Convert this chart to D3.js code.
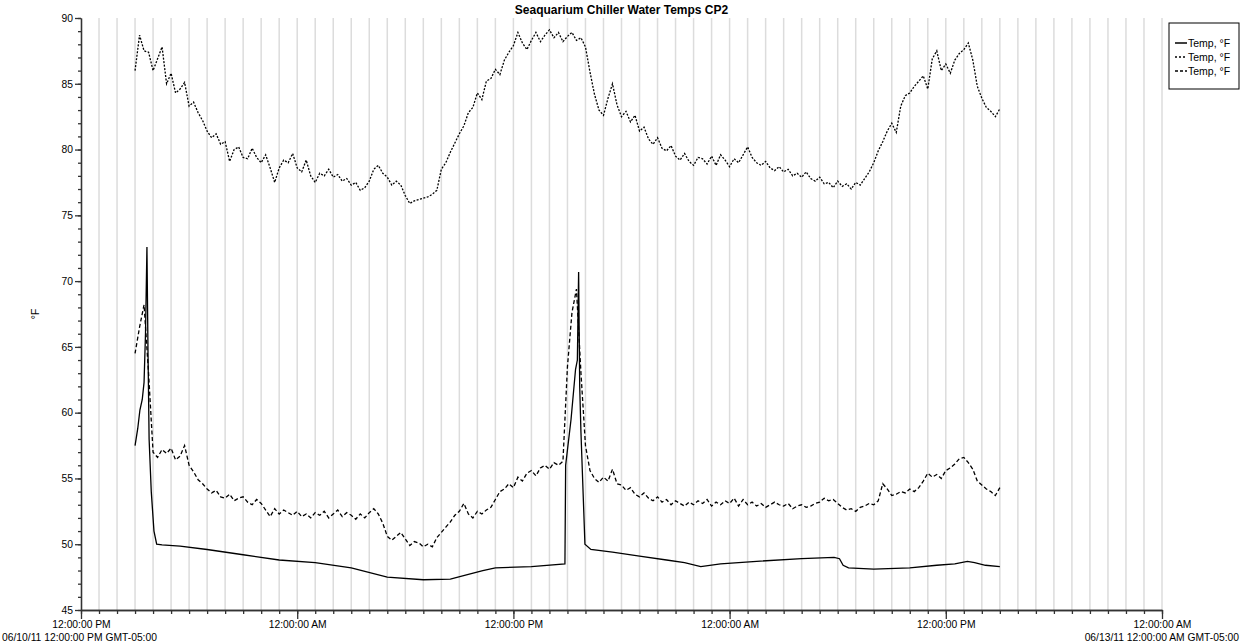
<!DOCTYPE html>
<html>
<head>
<meta charset="utf-8">
<script src="https://cdn.jsdelivr.net/npm/d3@7/dist/d3.min.js"></script>
<style>
    body { margin: 0; background: #fff; }
    svg { font-family: "Liberation Sans", Arial, sans-serif; }
</style>
</head>
<body>
<svg id="chart" width="1241" height="644"></svg>
<script>
const chart_title = "Seaquarium Chiller Water Temps CP2";
const y_label = "°F";
const legend_labels = ["Temp, °F", "Temp, °F", "Temp, °F"];
const first_date_label = "06/10/11 12:00:00 PM GMT-05:00";
const last_date_label = "06/13/11 12:00:00 AM GMT-05:00";
const x_start = new Date(2011, 5, 10, 12);
const x_end = new Date(2011, 5, 13, 0);
const y_ticks = [45, 50, 55, 60, 65, 70, 75, 80, 85, 90];

// dotted + dashed series are logged every 15 min from hour 3 (3:00 PM)
const sample_start_hour = 3;
const sample_step_hour = 0.25;

const temp_dotted = [
    86.0, 88.7, 87.5, 87.4, 86.0, 86.9, 87.8, 85.0, 85.8, 84.3, 84.6, 85.1,
    83.3, 83.6, 82.8, 82.2, 81.4, 80.9, 81.2, 80.4, 80.6, 79.1, 80.0, 80.2,
    79.4, 79.3, 80.1, 79.4, 79.0, 79.6, 78.6, 77.5, 78.6, 79.2, 79.0, 79.7,
    78.6, 78.3, 79.2, 78.0, 77.5, 78.2, 78.0, 78.5, 77.9, 78.1, 77.6, 77.8,
    77.3, 77.5, 76.9, 77.1, 77.6, 78.5, 78.8, 78.2, 77.9, 77.3, 77.6, 77.3,
    76.5, 75.9, 76.1, 76.2, 76.3, 76.4, 76.6, 76.9, 78.5, 79.0, 79.8, 80.5,
    81.2, 81.8, 82.8, 83.2, 84.3, 83.8, 85.2, 85.4, 86.1, 85.7, 86.8, 87.4,
    87.9, 88.9, 88.1, 87.6, 88.3, 88.9, 88.2, 88.7, 89.1, 88.5, 88.9, 88.2,
    88.6, 88.9, 88.3, 88.5, 87.8, 85.9, 84.2, 83.0, 82.6, 83.9, 85.0, 83.4,
    82.5, 82.9, 82.1, 82.6, 81.4, 81.7, 80.8, 80.4, 80.9, 80.1, 79.9, 80.3,
    79.5, 79.2, 79.7, 79.1, 78.8, 79.4, 79.3, 78.9, 79.5, 78.8, 79.6, 79.2,
    78.7, 79.3, 79.0, 79.6, 80.2, 79.4, 79.0, 78.8, 79.1, 78.6, 78.4, 78.7,
    78.3, 78.5, 78.0, 78.2, 77.9, 78.3, 77.8, 77.6, 77.9, 77.4, 77.5, 77.1,
    77.6, 77.2, 77.4, 77.0, 77.5, 77.3, 77.8, 78.3, 79.0, 79.9, 80.6, 81.4,
    82.0, 81.3, 83.3, 84.1, 84.3, 84.8, 85.2, 85.6, 84.6, 86.9, 87.5, 86.0,
    86.5, 85.8, 86.8, 87.3, 87.6, 88.1, 86.8, 84.8, 83.9, 83.2, 82.9, 82.5,
    83.1
];

const temp_dashed = [
    64.5, 66.5, 68.2, 63.0, 57.0, 56.6, 57.2, 56.9, 57.3, 56.4, 56.7, 57.5,
    56.0, 55.5, 54.9, 54.6, 54.2, 53.9, 54.1, 53.6, 53.5, 53.8, 53.3, 53.5,
    53.6, 53.2, 53.0, 53.4, 53.1, 52.6, 52.1, 52.7, 52.3, 52.6, 52.4, 52.2,
    52.5, 52.1, 52.3, 52.0, 52.4, 52.2, 52.5, 52.0, 52.3, 52.6, 52.1, 52.4,
    52.2, 51.9, 52.3, 52.0, 52.4, 52.7, 52.3, 51.6, 50.6, 50.3, 50.6, 50.9,
    50.4, 49.9, 50.2, 50.1, 49.8, 50.0, 49.8, 50.5, 50.9, 51.3, 51.7, 52.2,
    52.5, 53.1, 52.3, 52.0, 52.5, 52.3, 52.6, 52.8, 53.4, 54.0, 54.2, 54.6,
    54.3, 55.1, 54.8, 55.4, 55.6, 55.2, 55.8, 56.0, 55.7, 56.2, 56.0, 56.3,
    63.5, 67.6, 69.4, 63.0, 57.5, 55.6, 55.0, 54.7, 55.1, 54.8, 55.7, 54.6,
    54.5, 54.1, 54.3, 53.8, 53.6, 53.9, 53.5, 53.3, 53.6, 53.2, 53.4, 53.0,
    53.3, 53.1, 52.9, 53.2, 53.0, 53.3, 53.1, 53.4, 52.9, 53.2, 53.0, 53.3,
    53.1, 53.5, 52.9, 53.4, 53.0, 53.2, 52.9, 53.1, 52.8, 53.0, 53.2, 53.0,
    52.9, 53.1, 52.7, 52.9, 53.0, 52.8, 52.9, 53.1, 53.2, 53.5, 53.3, 53.4,
    53.1, 52.8, 52.6, 52.7, 52.5, 52.8, 52.9, 53.1, 53.0, 53.3, 54.6, 54.2,
    53.7, 53.8, 54.0, 53.9, 54.2, 54.0, 54.3, 54.8, 55.4, 55.1, 55.3, 55.0,
    55.6, 55.8, 56.1, 56.5, 56.6, 56.2, 55.7, 54.8, 54.5, 54.2, 54.0, 53.7,
    54.3
];

// solid series is smooth apart from two spikes, kept as (hour, value)
const temp_solid_hours = [
    3.00, 3.15, 3.27, 3.40, 3.50, 3.58, 3.66, 3.72, 3.78, 3.90, 4.05, 4.20,
    4.50, 5.50, 7.00, 9.00, 11.0, 13.0, 15.0, 17.0, 19.0, 20.5, 21.5, 22.3,
    23.0, 25.0, 26.86, 26.90, 27.20, 27.45, 27.55, 27.62, 27.68, 27.75, 27.97, 28.3,
    29.5, 31.0, 32.5, 33.5, 34.4, 35.5, 37.5, 40.0, 41.8, 42.1, 42.3, 42.6,
    44.0, 46.0, 47.5, 48.5, 49.2, 49.6, 50.2, 51.0
];
const temp_solid_values = [
    57.5, 58.8, 60.2, 61.0, 62.3, 66.0, 72.6, 64.5, 58.0, 54.0, 51.0, 50.0,
    49.95, 49.85, 49.6, 49.2, 48.8, 48.6, 48.2, 47.5, 47.3, 47.35, 47.7, 48.0,
    48.2, 48.3, 48.5, 56.0, 59.5, 63.3, 64.0, 70.7, 62.0, 58.5, 50.0, 49.6,
    49.4, 49.1, 48.8, 48.6, 48.3, 48.5, 48.7, 48.9, 49.0, 48.9, 48.4, 48.2,
    48.1, 48.2, 48.4, 48.5, 48.7, 48.6, 48.4, 48.3
];

const series_styles = ["none", "2,1.5", "4,2.5"];


class TempChart {

    constructor(selector) {
        this.svg = d3.select(selector);
        this.x = d3.scaleTime().domain([x_start, x_end]).range([81, 1162]);
        this.y = d3.scaleLinear().domain([45, 90]).range([610, 18]);
        this.line = d3.line()
            .x(d => this.x(d.date))
            .y(d => this.y(d.value));
    }

    hour_to_date(h) {
        return new Date(x_start.getTime() + h * 3600 * 1000);
    }

    draw_grid() {
        let hours = d3.timeHour.range(d3.timeHour.offset(x_start, 1), d3.timeHour.offset(x_end, 1));
        this.svg.append("g")
            .attr("class", "grid")
            .selectAll("line")
            .data(hours)
            .enter()
            .append("line")
            .attr("x1", d => this.x(d))
            .attr("x2", d => this.x(d))
            .attr("y1", this.y(90))
            .attr("y2", this.y(45))
            .attr("stroke", "#dcdcdc")
            .attr("stroke-width", 1.5);
    }

    draw_axes() {
        let fmt = d3.timeFormat("%I:%M:%S %p");

        // minor ticks
        this.svg.append("g")
            .attr("transform", "translate(0," + this.y(45) + ")")
            .call(d3.axisBottom(this.x).ticks(d3.timeHour.every(1)).tickSize(4).tickSizeOuter(0).tickFormat(""));
        this.svg.append("g")
            .attr("transform", "translate(" + this.x(x_start) + ",0)")
            .call(d3.axisLeft(this.y).tickValues(d3.range(45, 91, 1)).tickSize(3).tickSizeOuter(0).tickFormat(""));

        this.svg.append("g")
            .attr("class", "x-axis")
            .attr("transform", "translate(0," + this.y(45) + ")")
            .call(d3.axisBottom(this.x)
                .tickValues(d3.timeHour.every(12).range(x_start, d3.timeHour.offset(x_end, 1)))
                .tickSize(9)
                .tickPadding(2)
                .tickSizeOuter(0)
                .tickFormat(fmt));

        this.svg.append("g")
            .attr("class", "y-axis")
            .attr("transform", "translate(" + this.x(x_start) + ",0)")
            .call(d3.axisLeft(this.y).tickValues(y_ticks).tickSize(6).tickPadding(2).tickSizeOuter(0));

        this.svg.selectAll(".domain, .tick line")
            .attr("stroke", "#333")
            .attr("stroke-width", 1.3);
        this.svg.selectAll(".tick text")
            .attr("font-size", 10.3)
            .attr("fill", "#000")
            .attr("font-family", "Liberation Sans, Arial, sans-serif");

        this.svg.append("text")
            .attr("x", 2)
            .attr("y", 641)
            .attr("font-size", 10.3)
            .text(first_date_label);
        this.svg.append("text")
            .attr("x", 1239)
            .attr("y", 641)
            .attr("text-anchor", "end")
            .attr("font-size", 10.3)
            .text(last_date_label);

        this.svg.append("text")
            .attr("transform", "translate(39," + this.y(67.5) + ") rotate(-90)")
            .attr("text-anchor", "middle")
            .attr("font-size", 10.5)
            .attr("fill", "#000")
            .text(y_label);

        this.svg.append("text")
            .attr("x", (this.x(x_start) + this.x(x_end)) / 2)
            .attr("y", 14)
            .attr("text-anchor", "middle")
            .attr("font-size", 12)
            .attr("font-weight", "bold")
            .text(chart_title);
    }

    add_series(points, dash) {
        this.svg.append("path")
            .datum(points)
            .attr("d", this.line)
            .attr("fill", "none")
            .attr("stroke", "#000")
            .attr("stroke-width", 1.3)
            .attr("stroke-dasharray", dash);
    }

    sampled(values) {
        let _this = this;
        return values.map(function (v, i) {
            return {date: _this.hour_to_date(sample_start_hour + i * sample_step_hour), value: v};
        });
    }

    add_legend() {
        let legend = this.svg.append("g")
            .attr("class", "legend")
            .attr("transform", "translate(1169,23)");
        legend.append("rect")
            .attr("width", 70)
            .attr("height", 66)
            .attr("fill", "#fff")
            .attr("stroke", "#000")
            .attr("stroke-width", 1);
        let rows = legend.selectAll(".row")
            .data(legend_labels)
            .enter()
            .append("g")
            .attr("transform", (d, i) => "translate(0," + (20 + i * 14) + ")");
        rows.append("line")
            .attr("x1", 6)
            .attr("x2", 18)
            .attr("stroke", "#000")
            .attr("stroke-width", 1.5)
            .attr("stroke-dasharray", (d, i) => i == 0 ? "none" : (i == 1 ? "2,2" : "3,2"));
        rows.append("text")
            .attr("x", 19)
            .attr("y", 4)
            .attr("font-size", 10.5)
            .text(d => d);
    }

    draw() {
        this.draw_grid();
        this.draw_axes();

        let solid = temp_solid_hours.map((h, i) => ({date: this.hour_to_date(h), value: temp_solid_values[i]}));
        this.add_series(solid, series_styles[0]);
        this.add_series(this.sampled(temp_dotted), series_styles[1]);
        this.add_series(this.sampled(temp_dashed), series_styles[2]);

        this.add_legend();
    }
}

new TempChart("#chart").draw();
</script>
</body>
</html>
